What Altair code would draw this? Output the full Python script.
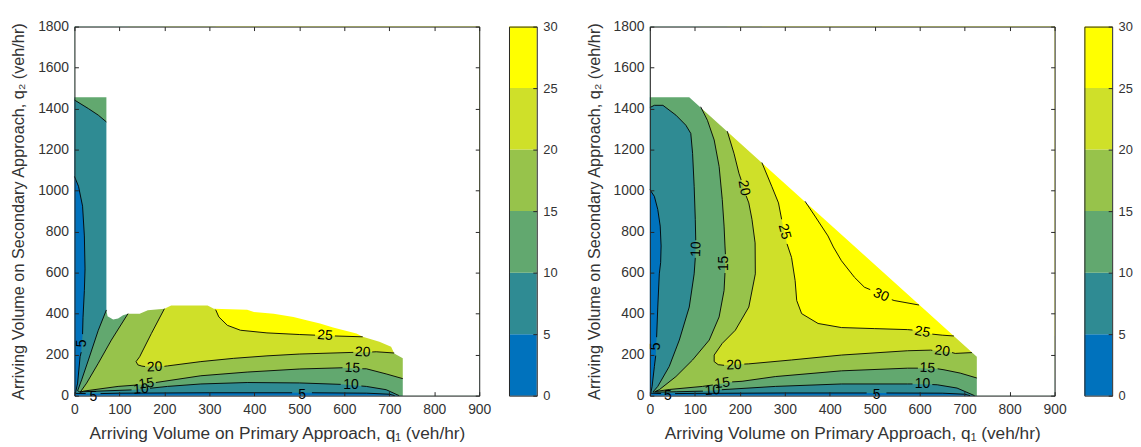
import altair as alt
import pandas as pd

# ---------------- values ----------------
LEVELS = [0, 5, 10, 15, 20, 25, 30]
BAND_COLORS = ["#0072BD", "#2F8B93", "#62A86F", "#97C34B", "#CFE029", "#FFFF00"]
X_TICKS = [0, 100, 200, 300, 400, 500, 600, 700, 800, 900]
Y_TICKS = [0, 200, 400, 600, 800, 1000, 1200, 1400, 1600, 1800]
CB_TICKS = [0, 5, 10, 15, 20, 25, 30]
X_MAX, Y_MAX = 900, 1800

X_TITLE = "Arriving Volume on Primary Approach,  q\u2081  (veh/hr)"
Y_TITLE = "Arriving Volume on Secondary Approach,  q\u2082  (veh/hr)"

# ---- left panel: feasible-region boundary (top/right edge) ----
L_BOUNDARY = [(0, 1455), (71, 1455), (71, 416), (73.6, 387), (86, 371), (97, 376), (108, 392),
              (119, 400), (145, 400), (163, 416), (200, 424), (215, 440), (296, 440), (310, 424),
              (384, 419), (399, 408), (443, 400), (487, 384), (516, 368), (546, 352), (575, 332),
              (627, 303), (641, 287), (678, 263), (704, 239), (711, 206), (730, 182), (730, 0)]
# contour lines (pieces separated where a label sits)
L_C5 = [[(0, 1069), (9, 1021), (18, 924), (22, 779), (23.5, 618), (22, 513), (19, 380), (18, 300)],
        [(15, 212), (12.5, 190), (7, 61), (3, 21), (2, 11), (25, 10)],
        [(58, 10), (100, 12), (300, 14), (484, 14)],
        [(528, 14), (650, 12), (700, 7), (712, 0)]]
L_C10_TOP = [[(0, 1442), (31, 1400), (53, 1368), (71, 1335)]]
L_C10 = [[(71, 418), (53, 319), (31, 174), (16, 77), (7, 24), (12, 18), (40, 21), (127, 28)],
         [(168, 36), (207, 45), (281, 57), (384, 64), (500, 62), (592, 55)],
         [(638, 47), (649, 45), (693, 29), (722, 0)]]
L_C15 = [[(119, 400), (82, 271), (53, 158), (27, 61), (12.5, 16), (20, 22), (97, 45), (140, 52)],
         [(181, 64), (281, 97), (384, 115), (501, 130), (596, 136)],
         [(640, 131), (649, 131), (693, 106), (730, 83)]]
L_C20 = [[(200, 424), (171, 303), (145, 190), (137, 166), (141, 150), (150, 144), (157, 142)],
         [(200, 143), (207, 145), (281, 166), (354, 182), (428, 194), (501, 203), (620, 211)],
         [(662, 213), (671, 214), (711, 208)]]
L_C25 = [[(314, 419), (321, 384), (340, 343), (369, 319), (428, 306), (501, 298), (535, 295)],
         [(579, 291), (641, 287)]]
L_LABELS = [("5", 17, 255, 270), ("5", 42, -8, 0), ("5", 506, 5, 0),
            ("10", 148, 31, 356), ("10", 615, 51, 0),
            ("15", 160, 58, 352), ("15", 618, 134, 2),
            ("20", 178, 139, 358), ("20", 641, 211, 3),
            ("25", 557, 293, 4)]
# outside-of-region points that close each filled level set
L_CLOSE_TOP10 = [(80, 1335), (80, Y_MAX), (0, Y_MAX)]
L_CLOSE = {5: [(X_MAX, 0), (X_MAX, Y_MAX), (0, Y_MAX)],
           10: [(X_MAX, 0), (X_MAX, Y_MAX), (80, Y_MAX), (80, 418)],
           15: [(X_MAX, 83), (X_MAX, Y_MAX), (119, Y_MAX)],
           20: [(X_MAX, 208), (X_MAX, Y_MAX), (200, Y_MAX)],
           25: [(X_MAX, 287), (X_MAX, Y_MAX), (314, Y_MAX)]}

# ---- right panel ----
R_BOUNDARY = [(0, 1455), (87.5, 1455), (727, 190), (727, 0)]
R_C5 = [[(0, 1005), (10, 972), (17.6, 908), (23, 827), (25, 730), (24, 650), (21, 594), (17.6, 432), (15, 285)],
        [(13, 195), (10, 142), (5, 45), (2, 12), (25, 10)],
        [(56, 10), (100, 11), (300, 13), (482, 13)],
        [(526, 13), (650, 12), (700, 7), (712, 0)]]
R_C10 = [[(0, 1405), (10, 1416), (29, 1416), (58, 1368), (80, 1319), (91, 1279), (95, 1182), (98.5, 1021),
          (101, 860), (102, 758)],
         [(101, 672), (98.5, 594), (87.6, 432), (65.5, 271), (43, 142), (17.6, 45), (7, 18), (15, 17),
          (60, 19), (118, 22)],
         [(160, 29), (279, 45), (426, 57), (573, 57), (584, 57)],
         [(628, 54), (639, 53), (683, 37), (722, 0)]]
R_C15 = [[(113, 1409), (128, 1343), (143, 1247), (154, 1118), (161, 956), (165, 827), (167, 730), (168, 690)],
         [(167, 598), (165, 513), (154, 384), (132, 271), (95, 174), (58, 93), (21, 29), (12, 20), (43, 30),
          (117, 45), (140, 52)],
         [(183, 67), (205, 70), (279, 93), (426, 121), (573, 134), (596, 134)],
         [(640, 131), (654, 126), (690, 110), (727, 86)]]
R_C20 = [[(172, 1290), (187, 1182), (198, 1085), (203, 1052)],
         [(214, 975), (220, 940), (227, 860), (234, 745), (234.5, 594), (220, 432), (190, 319), (161, 255),
          (143, 198), (143, 166), (152, 151), (165, 148)],
         [(210, 154), (220, 155), (315, 174), (426, 198), (573, 219), (624, 222), (628, 221)],
         [(672, 210), (679, 206), (716, 210)]]
R_C25 = [[(249, 1137), (271, 1021), (286, 940), (293, 860)],
         [(305, 740), (315, 674), (323, 561), (326.5, 464), (337.5, 400), (374, 352), (426, 332), (499, 327),
          (573, 322), (584, 320)],
         [(628, 300), (650, 295), (676, 291)]]
R_C30 = [[(345, 948), (367, 876), (396, 779), (408, 725), (426, 658), (455, 577), (477, 529), (490, 517)],
         [(538, 468), (543, 464), (598.5, 442)]]
R_LABELS = [("5", 14, 240, 270), ("5", 40, -3, 0), ("5", 504, 5, 0),
            ("10", 103, 715, 272), ("10", 139, 25, 356), ("10", 606, 56, 0),
            ("15", 166, 645, 270), ("15", 161, 60, 353), ("15", 617, 134, 2),
            ("20", 209, 1013, 80), ("20", 187, 148, 358), ("20", 650, 216, 7),
            ("25", 299, 800, 75), ("25", 606, 310, 10),
            ("30", 514, 490, 24)]
R_CLOSE = {5: [(X_MAX, 0), (X_MAX, Y_MAX), (0, Y_MAX)],
           10: [(X_MAX, 0), (X_MAX, Y_MAX), (0, Y_MAX)],
           15: [(X_MAX, 86), (X_MAX, Y_MAX), (113, Y_MAX)],
           20: [(X_MAX, 210), (X_MAX, Y_MAX), (172, Y_MAX)],
           25: [(X_MAX, 291), (X_MAX, Y_MAX), (249, Y_MAX)]}

# ---------------- styling ----------------
W, H, CBW = 408, 372, 28
FONT = "Liberation Sans"
AX = "#262626"
LBL = "#333333"
XS = alt.Scale(domain=[0, X_MAX], nice=False, zero=False)
YS = alt.Scale(domain=[0, Y_MAX], nice=False, zero=False)


def flat(pieces):
    return [p for piece in pieces for p in piece]


def pts_df(pts):
    return pd.DataFrame({"x": [p[0] for p in pts], "y": [p[1] for p in pts], "i": list(range(len(pts)))})


def poly(pts, color):
    return alt.Chart(pts_df(pts)).mark_line(filled=True, fill=color).encode(
        x=alt.X("x:Q", scale=XS, axis=None),
        y=alt.Y("y:Q", scale=YS, axis=None),
        order=alt.Order("i:Q"),
    )


def lines(all_pieces):
    rows = []
    for k, piece in enumerate(all_pieces):
        for j, (x, y) in enumerate(piece):
            rows.append({"x": x, "y": y, "seg": k, "i": j})
    return alt.Chart(pd.DataFrame(rows)).mark_line(color="#000000", strokeWidth=0.9).encode(
        x=alt.X("x:Q", scale=XS, axis=None),
        y=alt.Y("y:Q", scale=YS, axis=None),
        detail="seg:N",
        order=alt.Order("i:Q"),
    )


def labels(lbls):
    df = pd.DataFrame(lbls, columns=["t", "x", "y", "a"])
    return alt.Chart(df).mark_text(font=FONT, fontSize=14, color="#000000").encode(
        x=alt.X("x:Q", scale=XS, axis=None),
        y=alt.Y("y:Q", scale=YS, axis=None),
        text="t:N",
        angle=alt.Angle("a:Q", scale=None),
    )


def axis_layers():
    df = pd.DataFrame({"x": [X_TICKS[0]], "y": [Y_TICKS[0]]})
    common = dict(labelFont=FONT, titleFont=FONT, labelColor=LBL, titleColor=LBL, domainColor=AX,
                  tickColor=AX, grid=False, zindex=1)
    inner = dict(labels=False, tickSize=4, title=None, minExtent=0, **common)
    main = alt.Chart(df).mark_point(opacity=0).encode(
        x=alt.X("x:Q", scale=XS, axis=alt.Axis(
            orient="bottom", values=X_TICKS, format="d", ticks=False, labelPadding=7, labelFlush=False,
            labelOverlap=False, labelFontSize=14, title=X_TITLE, titleFontSize=17.4,
            titleFontWeight="normal", titlePadding=8, **common)),
        y=alt.Y("y:Q", scale=YS, axis=alt.Axis(
            orient="left", values=Y_TICKS, format="d", ticks=False, labelPadding=6, labelFlush=False,
            labelOverlap=False, labelFontSize=14, title=Y_TITLE, titleFontSize=16.4,
            titleFontWeight="normal", titlePadding=11, **common)),
    )
    inner_bl = alt.Chart(df).mark_point(opacity=0).encode(
        x=alt.X("x:Q", scale=XS, axis=alt.Axis(orient="top", offset=-H, values=X_TICKS, domain=False, **inner)),
        y=alt.Y("y:Q", scale=YS, axis=alt.Axis(orient="right", offset=-W, values=Y_TICKS, domain=False, **inner)),
    )
    inner_tr = alt.Chart(df).mark_point(opacity=0).encode(
        x=alt.X("x:Q", scale=XS, axis=alt.Axis(orient="bottom", offset=-H, values=X_TICKS, domain=True, **inner)),
        y=alt.Y("y:Q", scale=YS, axis=alt.Axis(orient="left", offset=-W, values=Y_TICKS, domain=True, **inner)),
    )
    return [main, inner_bl, inner_tr]


def panel(boundary, fills, contour_pieces, lbls):
    layers = [poly(boundary + [(0, 0)], BAND_COLORS[0])]
    for band, pts in fills:
        layers.append(poly(pts, BAND_COLORS[band]))
    mask = boundary + [(X_MAX, 0), (X_MAX, Y_MAX), (0, Y_MAX)]
    layers.append(poly(mask, "#FFFFFF"))
    layers.append(lines(contour_pieces))
    layers.append(labels(lbls))
    layers += axis_layers()
    return alt.layer(*layers).resolve_axis(x="independent", y="independent").properties(width=W, height=H)


def colorbar(extent):
    # colour bar: one band per contour interval, spanning the bar's whole width (0..1)
    df = pd.DataFrame({"lo": LEVELS[:-1], "hi": LEVELS[1:], "c": BAND_COLORS,
                       "x0": [0] * 6, "x1": [1] * 6})
    cs = alt.Scale(domain=[LEVELS[0], LEVELS[-1]], nice=False, zero=False)
    xs = alt.Scale(domain=[0, 1], nice=False, zero=False)
    common = dict(labelFont=FONT, labelColor=LBL, domainColor=AX, tickColor=AX, grid=False, zindex=1)
    bare = dict(ticks=False, labels=False, domain=True, title=None, minExtent=0, **common)
    bands = alt.Chart(df).mark_rect().encode(
        x=alt.X("x0:Q", scale=xs, axis=None), x2="x1:Q",
        y=alt.Y("lo:Q", scale=cs, axis=alt.Axis(orient="right", values=CB_TICKS, ticks=False, labelPadding=6,
                                                labelFontSize=13, domain=False, title=None,
                                                minExtent=extent, **common)),
        y2="hi:Q",
        color=alt.Color("c:N", scale=None, legend=None),
    )
    ticks = alt.Chart(df).mark_point(opacity=0).encode(
        x=alt.X("x0:Q", scale=xs, axis=None),
        y=alt.Y("lo:Q", scale=cs, axis=alt.Axis(orient="left", offset=-CBW, values=CB_TICKS, labels=False,
                                                tickSize=4, domain=True, title=None, minExtent=0, **common)),
    )
    frame = alt.Chart(df).mark_point(opacity=0).encode(
        x=alt.X("x0:Q", scale=xs, axis=alt.Axis(orient="bottom", **bare)),
        y=alt.Y("lo:Q", scale=cs, axis=alt.Axis(orient="left", **bare)),
    )
    frame_top = alt.Chart(df).mark_point(opacity=0).encode(
        x=alt.X("x0:Q", scale=xs, axis=alt.Axis(orient="top", **bare)),
        y=alt.Y("lo:Q", scale=cs, axis=None),
    )
    return alt.layer(bands, ticks, frame, frame_top).resolve_axis(
        x="independent", y="independent").properties(width=CBW, height=H)


left_fills = [(1, flat(L_C5) + L_CLOSE[5]),
              (2, flat(L_C10_TOP) + L_CLOSE_TOP10),
              (2, flat(L_C10) + L_CLOSE[10]),
              (3, flat(L_C15) + L_CLOSE[15]),
              (4, flat(L_C20) + L_CLOSE[20]),
              (5, flat(L_C25) + L_CLOSE[25])]
right_fills = [(1, flat(R_C5) + R_CLOSE[5]),
               (2, flat(R_C10) + R_CLOSE[10]),
               (3, flat(R_C15) + R_CLOSE[15]),
               (4, flat(R_C20) + R_CLOSE[20]),
               (5, flat(R_C25) + R_CLOSE[25])]

left = panel(L_BOUNDARY, left_fills, L_C5 + L_C10_TOP + L_C10 + L_C15 + L_C20 + L_C25, L_LABELS)
right = panel(R_BOUNDARY, right_fills, R_C5 + R_C10 + R_C15 + R_C20 + R_C25 + R_C30, R_LABELS)

chart = alt.hconcat(left, colorbar(34), right, colorbar(0), spacing=15).configure_view(
    strokeWidth=0
).properties(
    padding={"left": 2, "top": 8, "right": 0, "bottom": 0}, background="#FFFFFF"
)

chart.save("out.html", embed_options={"renderer": "svg", "actions": False})
